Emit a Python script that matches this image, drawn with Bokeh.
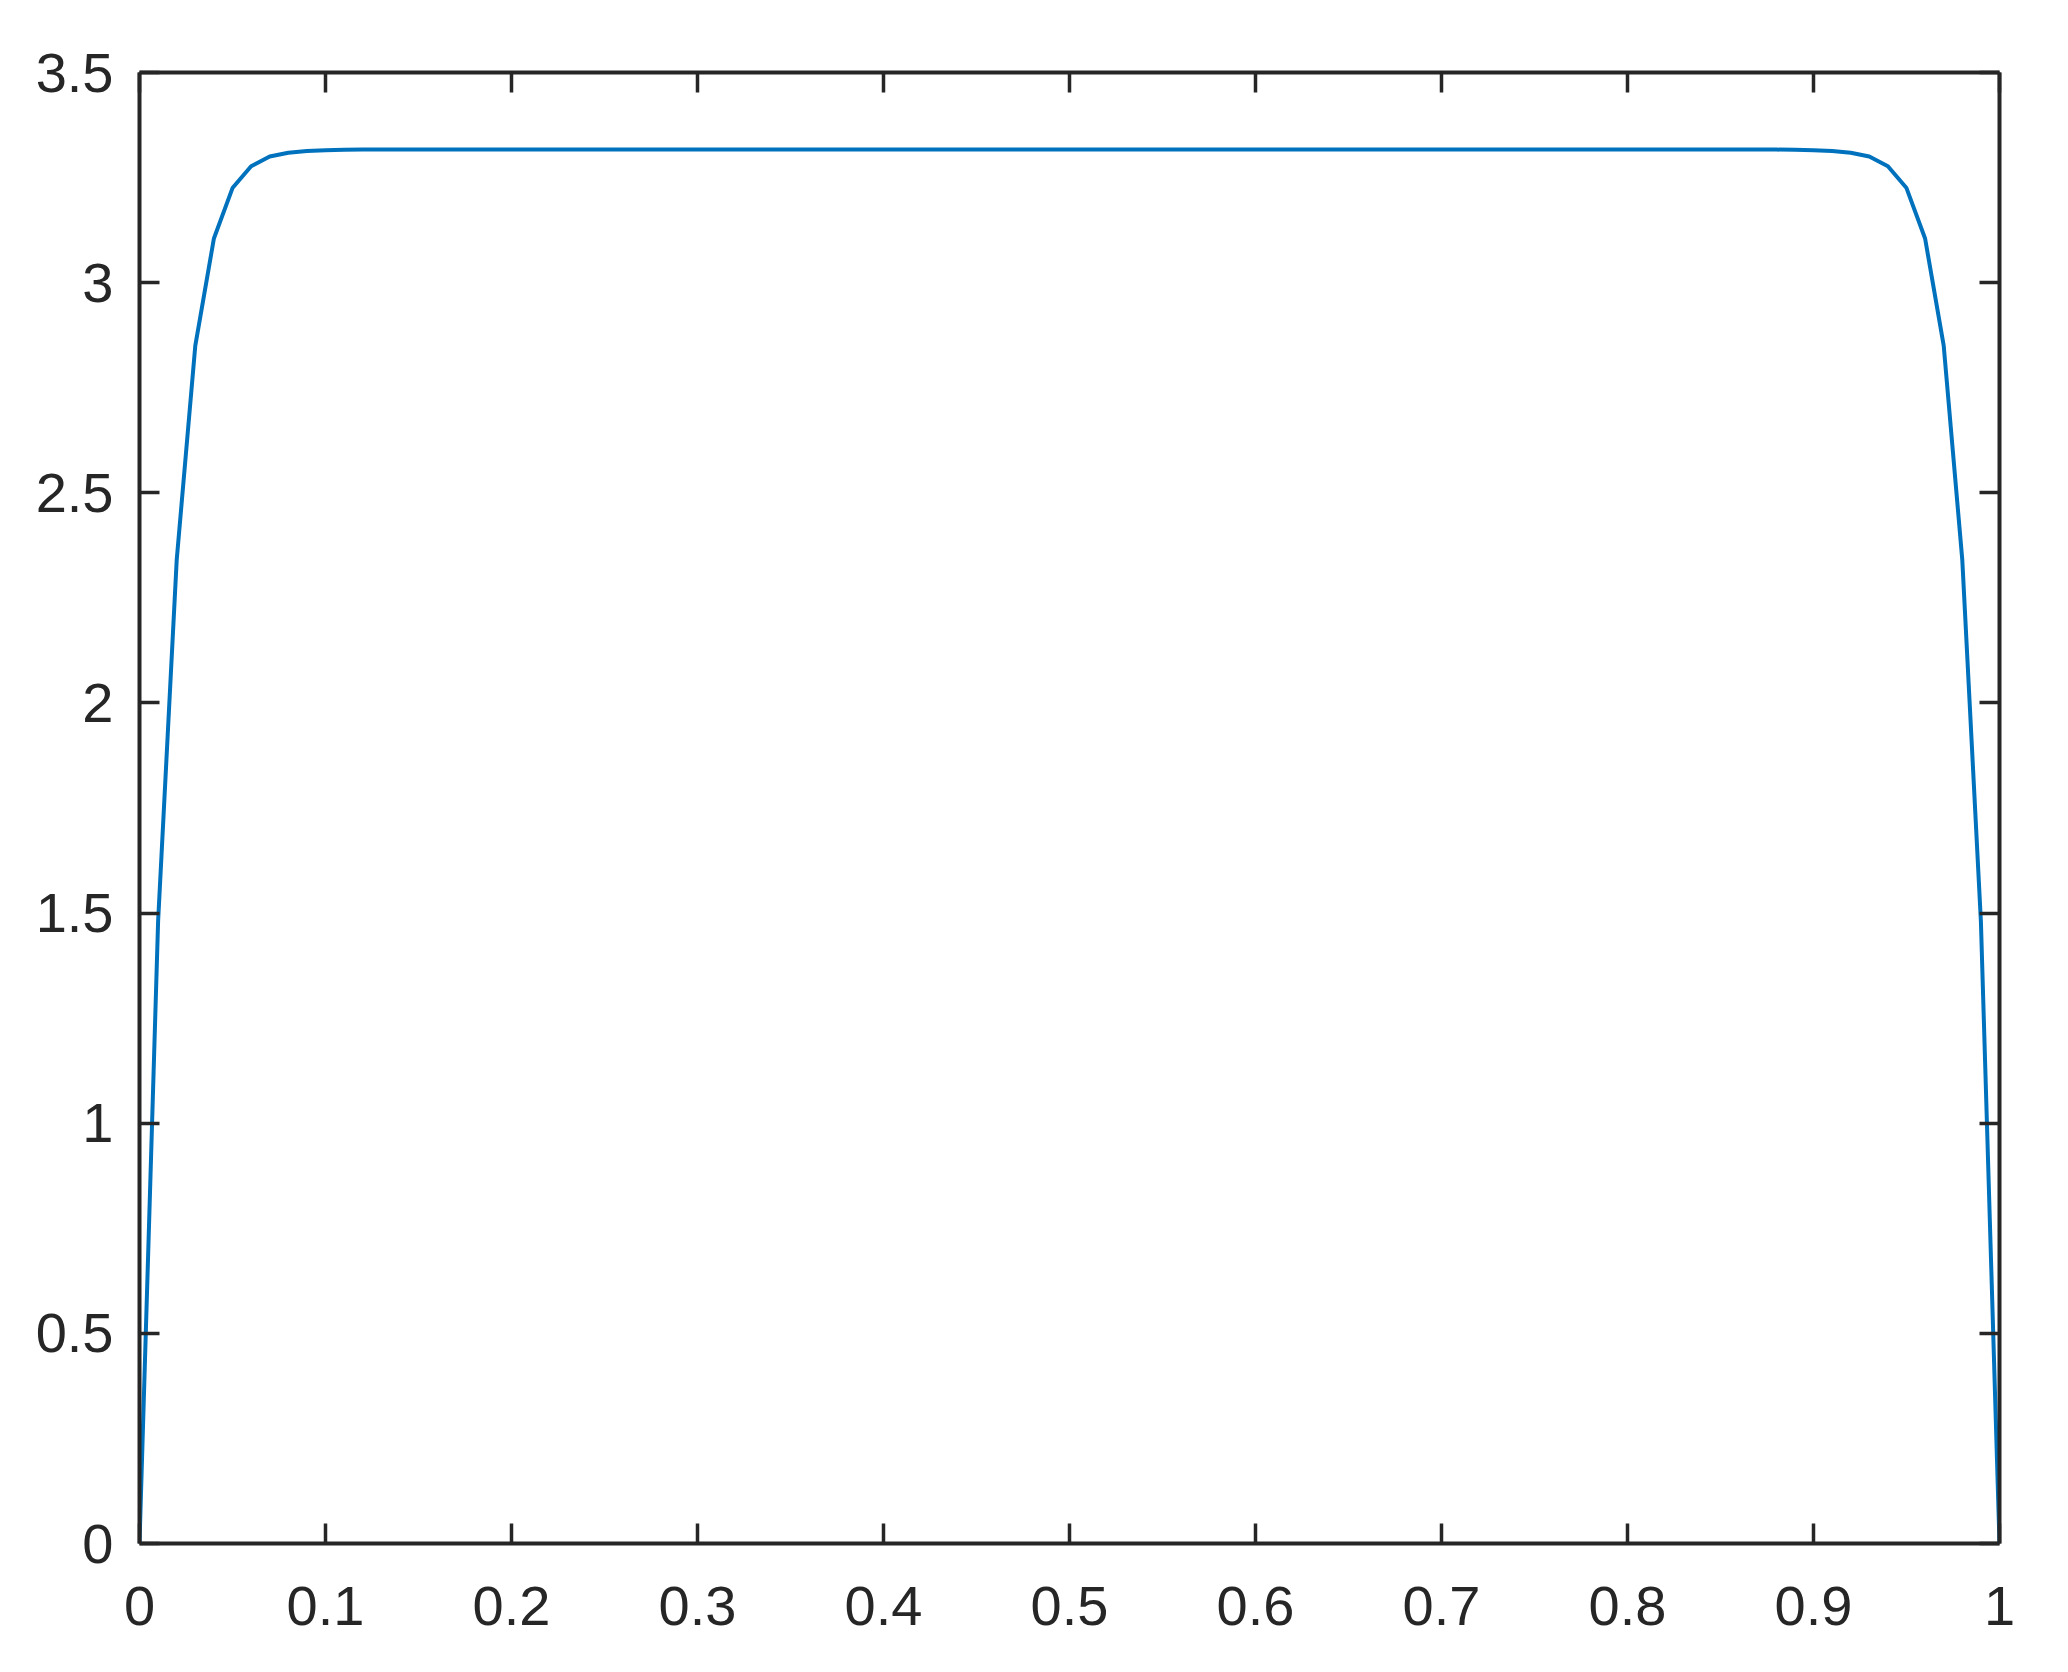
from bokeh.plotting import figure
from bokeh.models import LinearAxis, FixedTicker, Range1d, ColumnDataSource
from bokeh.embed import file_html
from bokeh.resources import INLINE

# ---- data ----
x_vals = [0.00, 0.01, 0.02, 0.03, 0.04, 0.05, 0.06, 0.07, 0.08, 0.09,
          0.10, 0.11, 0.12, 0.13, 0.14, 0.15, 0.16, 0.17, 0.18, 0.19,
          0.20, 0.21, 0.22, 0.23, 0.24, 0.25, 0.26, 0.27, 0.28, 0.29,
          0.30, 0.31, 0.32, 0.33, 0.34, 0.35, 0.36, 0.37, 0.38, 0.39,
          0.40, 0.41, 0.42, 0.43, 0.44, 0.45, 0.46, 0.47, 0.48, 0.49,
          0.50, 0.51, 0.52, 0.53, 0.54, 0.55, 0.56, 0.57, 0.58, 0.59,
          0.60, 0.61, 0.62, 0.63, 0.64, 0.65, 0.66, 0.67, 0.68, 0.69,
          0.70, 0.71, 0.72, 0.73, 0.74, 0.75, 0.76, 0.77, 0.78, 0.79,
          0.80, 0.81, 0.82, 0.83, 0.84, 0.85, 0.86, 0.87, 0.88, 0.89,
          0.90, 0.91, 0.92, 0.93, 0.94, 0.95, 0.96, 0.97, 0.98, 0.99,
          1.00]

y_vals = [0.0, 1.48, 2.34, 2.85, 3.105, 3.225, 3.277, 3.300, 3.309, 3.313,
          3.315, 3.316,
          3.3166, 3.3166, 3.3166, 3.3166, 3.3166, 3.3166, 3.3166, 3.3166, 3.3166, 3.3166, 3.3166,
          3.3166, 3.3166, 3.3166, 3.3166, 3.3166, 3.3166, 3.3166, 3.3166, 3.3166, 3.3166, 3.3166,
          3.3166, 3.3166, 3.3166, 3.3166, 3.3166, 3.3166, 3.3166, 3.3166, 3.3166, 3.3166, 3.3166,
          3.3166, 3.3166, 3.3166, 3.3166, 3.3166, 3.3166, 3.3166, 3.3166, 3.3166, 3.3166, 3.3166,
          3.3166, 3.3166, 3.3166, 3.3166, 3.3166, 3.3166, 3.3166, 3.3166, 3.3166, 3.3166, 3.3166,
          3.3166, 3.3166, 3.3166, 3.3166, 3.3166, 3.3166, 3.3166, 3.3166, 3.3166, 3.3166, 3.3166,
          3.3166, 3.3166, 3.3166, 3.3166, 3.3166, 3.3166, 3.3166, 3.3166, 3.3166, 3.3166, 3.3166,
          3.316, 3.315, 3.313, 3.309, 3.300, 3.277, 3.225, 3.105, 2.85, 2.34,
          1.48, 0.0]

x_ticks = [0, 0.1, 0.2, 0.3, 0.4, 0.5, 0.6, 0.7, 0.8, 0.9, 1]
x_tick_labels = ["0", "0.1", "0.2", "0.3", "0.4", "0.5", "0.6", "0.7", "0.8", "0.9", "1"]
y_ticks = [0, 0.5, 1, 1.5, 2, 2.5, 3, 3.5]
y_tick_labels = ["0", "0.5", "1", "1.5", "2", "2.5", "3", "3.5"]

AX = "#262626"
FONT = "Liberation Sans"
FSIZE = "56px"

p = figure(frame_width=1860, frame_height=1471,
           x_range=Range1d(0, 1), y_range=Range1d(0, 3.5),
           output_backend="svg", toolbar_location=None,
           min_border_left=139, min_border_right=60,
           min_border_top=72, min_border_bottom=112,
           x_axis_location=None, y_axis_location=None)
p.grid.visible = False
p.outline_line_color = None
p.background_fill_color = "white"
p.border_fill_color = "white"

src = ColumnDataSource(dict(x=x_vals, y=y_vals))
p.line("x", "y", source=src, line_color="#0072BD", line_width=4)


def style(ax, show_labels, standoff):
    ax.axis_line_color = AX
    ax.axis_line_width = 4
    ax.major_tick_line_color = AX
    ax.major_tick_line_width = 3.5
    ax.major_tick_in = 20
    ax.major_tick_out = 0
    ax.minor_tick_line_color = None
    ax.major_label_text_color = AX
    ax.major_label_text_font = FONT
    ax.major_label_standoff = standoff
    if show_labels:
        ax.major_label_text_font_size = FSIZE
    else:
        ax.major_label_text_font_size = "0px"
        ax.major_label_text_alpha = 0


xb = LinearAxis(ticker=FixedTicker(ticks=x_ticks),
                major_label_overrides={t: l for t, l in zip(x_ticks, x_tick_labels)})
style(xb, True, 43)
p.add_layout(xb, "below")

xt = LinearAxis(ticker=FixedTicker(ticks=x_ticks))
style(xt, False, 0)
p.add_layout(xt, "above")

yl = LinearAxis(ticker=FixedTicker(ticks=y_ticks),
                major_label_overrides={t: l for t, l in zip(y_ticks, y_tick_labels)})
style(yl, True, 26)
p.add_layout(yl, "left")

yr = LinearAxis(ticker=FixedTicker(ticks=y_ticks))
style(yr, False, 0)
p.add_layout(yr, "right")

open("out.html", "w").write(file_html(p, INLINE))
